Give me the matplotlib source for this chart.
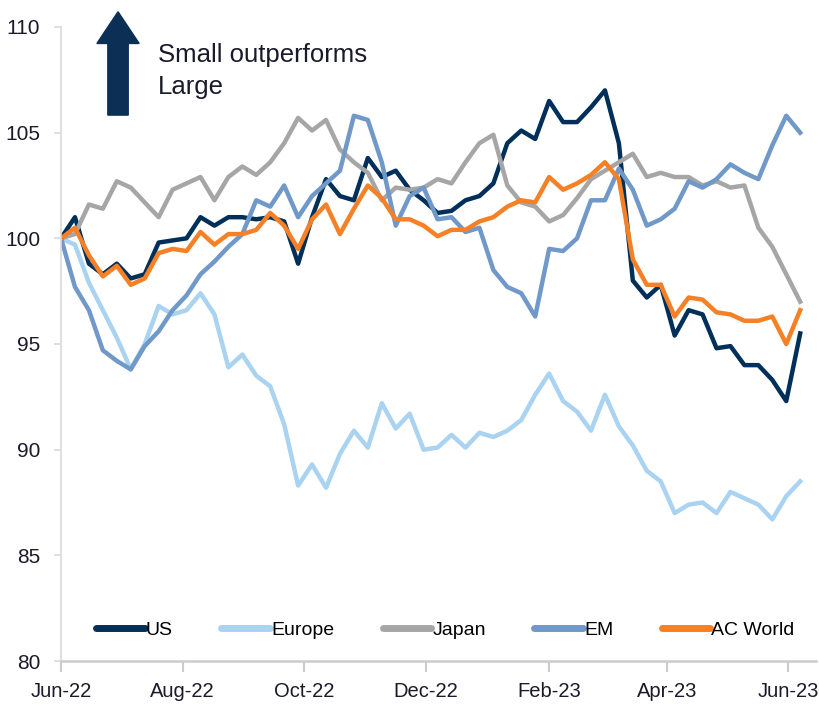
import numpy as np
import pandas as pd
import matplotlib
matplotlib.use('Agg')
import matplotlib.pyplot as plt
import matplotlib.dates as mdates
from matplotlib.patches import FancyArrow

plt.rcParams['font.family'] = ['Liberation Sans', 'DejaVu Sans']

# weekly readings, 100 = start of Jun-22
dates = pd.date_range('2022-06-01', periods=54, freq='7D')

us = [100.0, 101.0, 98.8, 98.3, 98.8, 98.1, 98.3, 99.8, 99.9, 100.0,
      101.0, 100.6, 101.0, 101.0, 100.9, 101.0, 100.8, 98.8, 101.0, 102.8,
      102.0, 101.8, 103.8, 102.9, 103.2, 102.3, 101.8, 101.2, 101.3, 101.8,
      102.0, 102.6, 104.5, 105.1, 104.7, 106.5, 105.5, 105.5, 106.2, 107.0,
      104.5, 98.0, 97.2, 97.8, 95.4, 96.6, 96.4, 94.8, 94.9, 94.0,
      94.0, 93.3, 92.3, 95.5]
europe = [100.0, 99.7, 97.9, 96.6, 95.3, 93.8, 95.0, 96.8, 96.4, 96.6,
          97.4, 96.4, 93.9, 94.5, 93.5, 93.0, 91.2, 88.3, 89.3, 88.2,
          89.8, 90.9, 90.1, 92.2, 91.0, 91.7, 90.0, 90.1, 90.7, 90.1,
          90.8, 90.6, 90.9, 91.4, 92.6, 93.6, 92.3, 91.8, 90.9, 92.6,
          91.1, 90.2, 89.0, 88.5, 87.0, 87.4, 87.5, 87.0, 88.0, 87.7,
          87.4, 86.7, 87.8, 88.5]
japan = [100.0, 100.2, 101.6, 101.4, 102.7, 102.4, 101.7, 101.0, 102.3, 102.6,
         102.9, 101.8, 102.9, 103.4, 103.0, 103.6, 104.5, 105.7, 105.1, 105.6,
         104.2, 103.6, 103.1, 101.8, 102.4, 102.3, 102.4, 102.8, 102.6, 103.6,
         104.5, 104.9, 102.5, 101.7, 101.5, 100.8, 101.1, 101.9, 102.8, 103.2,
         103.6, 104.0, 102.9, 103.1, 102.9, 102.9, 102.5, 102.7, 102.4, 102.5,
         100.5, 99.6, 98.3, 97.0]
em = [100.0, 97.7, 96.6, 94.7, 94.2, 93.8, 94.9, 95.6, 96.6, 97.3,
      98.3, 98.9, 99.6, 100.2, 101.8, 101.5, 102.5, 101.0, 102.0, 102.6,
      103.2, 105.8, 105.6, 103.6, 100.6, 102.0, 102.4, 100.9, 101.0, 100.3,
      100.5, 98.5, 97.7, 97.4, 96.3, 99.5, 99.4, 100.0, 101.8, 101.8,
      103.3, 102.3, 100.6, 100.9, 101.4, 102.7, 102.4, 102.8, 103.5, 103.1,
      102.8, 104.4, 105.8, 105.0]
ac_world = [100.0, 100.5, 99.2, 98.2, 98.7, 97.8, 98.1, 99.3, 99.5, 99.4,
            100.3, 99.7, 100.2, 100.2, 100.4, 101.2, 100.6, 99.5, 100.9, 101.6,
            100.2, 101.4, 102.5, 101.9, 100.9, 100.9, 100.6, 100.1, 100.4, 100.4,
            100.8, 101.0, 101.5, 101.8, 101.7, 102.9, 102.3, 102.6, 103.0, 103.6,
            102.8, 99.0, 97.8, 97.8, 96.3, 97.2, 97.1, 96.5, 96.4, 96.1,
            96.1, 96.3, 95.0, 96.6]

series = [('US', us, '#00305a'),
          ('Europe', europe, '#a9d3f0'),
          ('Japan', japan, '#a6a6a6'),
          ('EM', em, '#7098c8'),
          ('AC World', ac_world, '#f58025')]

fig = plt.figure(figsize=(8.19, 7.10), dpi=100)
ax = fig.add_axes([0.0745, 0.069, 0.922, 0.893])

for name, vals, col in series:
    ax.plot(dates, vals, color=col, lw=3.2, label=name, solid_joinstyle='round')

ax.set_ylim(80, 110)
ax.set_yticks(range(80, 111, 5))
ax.set_xlim(pd.Timestamp('2022-06-01'), pd.Timestamp('2023-06-15'))
ax.xaxis.set_major_locator(mdates.MonthLocator(bymonth=[2, 4, 6, 8, 10, 12]))
ax.xaxis.set_major_formatter(mdates.DateFormatter('%b-%y'))

for s in ['top', 'right']:
    ax.spines[s].set_visible(False)
ax.spines['left'].set_color('#d9d9d9')
ax.spines['bottom'].set_color('#cccccc')
ax.spines['left'].set_linewidth(1.2)
ax.spines['bottom'].set_linewidth(1.8)
ax.tick_params(axis='y', colors='#d9d9d9', labelcolor='#1a1a2a', labelsize=15,
               length=5, width=1.2, pad=10)
ax.tick_params(axis='x', colors='#cccccc', labelcolor='#1a1a2a', labelsize=14.5,
               length=8, width=1.5, pad=7)

leg = ax.legend(loc='center', bbox_to_anchor=(0.509, 0.049), ncol=5, frameon=False,
                fontsize=14, handlelength=2.5, handletextpad=0.05, columnspacing=2.5)
for h in leg.get_lines():
    h.set_linewidth(5)
    h.set_solid_capstyle('round')

# up arrow and caption
arr = FancyArrow(0.0755, 0.861, 0, 0.163, width=0.027, head_width=0.056,
                 head_length=0.05, length_includes_head=True,
                 transform=ax.transAxes, color='#0b2f55', clip_on=False)
ax.add_patch(arr)
ax.text(0.128, 0.975, 'Small outperforms\nLarge', transform=ax.transAxes,
        fontsize=18.5, color='#1a1a2a', va='top', ha='left', linespacing=1.45)

fig.savefig('out.png', dpi=100)
